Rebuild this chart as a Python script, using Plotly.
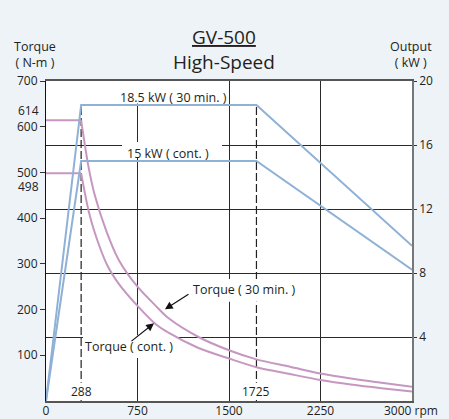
import plotly.graph_objects as go

# ---------------- data ----------------
rpm_power = [0, 288, 1725, 3000]
kw_30min = [0, 18.5, 18.5, 9.7]
kw_cont = [0, 15, 15, 8.2]

rpm_torque = [0, 288, 350, 400, 500, 600, 750, 900, 1000, 1250, 1500, 1725, 2000, 2250, 2500, 2750, 3000]
torque_30min = [614, 614, 510, 450, 368, 307, 250, 208, 182, 140, 111, 91, 75, 60, 49, 40, 31]
torque_cont = [498, 498, 415, 368, 298, 255, 208, 168, 150, 116, 93, 74, 59, 46, 36, 28, 21]

x_ticks = [0, 750, 1500, 2250, 3000]
torque_ticks = [100, 200, 300, 400, 500, 600, 700]
kw_ticks = [4, 8, 12, 16, 20]

KW_TO_NM = 700 / 20  # both axes share the same pixel span

BLUE = "#8fb1d6"
PINK = "#c597c1"
FONT = "Open Sans"

fig = go.Figure()

fig.add_trace(go.Scatter(x=rpm_power, y=kw_30min, yaxis="y2", mode="lines",
                         line=dict(color=BLUE, width=2), hoverinfo="skip"))
fig.add_trace(go.Scatter(x=rpm_power, y=kw_cont, yaxis="y2", mode="lines",
                         line=dict(color=BLUE, width=2), hoverinfo="skip"))
for tq in (torque_30min, torque_cont):
    # flat constant-torque part
    fig.add_trace(go.Scatter(x=rpm_torque[:2], y=tq[:2], mode="lines",
                             line=dict(color=PINK, width=2), hoverinfo="skip"))
    # falling part
    fig.add_trace(go.Scatter(x=rpm_torque[1:], y=tq[1:], mode="lines",
                             line=dict(color=PINK, width=2, shape="spline", smoothing=0.8),
                             hoverinfo="skip"))

shapes = []
# dashed reference lines at the corner speeds
for r in (rpm_power[1], rpm_power[2]):
    shapes.append(dict(type="line", xref="x", yref="y", x0=r, x1=r, y0=0,
                       y1=kw_30min[1] * KW_TO_NM,
                       line=dict(color="#222", width=1.2, dash="8px,3px"), layer="between"))

# white label backgrounds (hide grid lines behind labels)
def box(x0, x1, y0, y1):
    shapes.append(dict(type="rect", xref="x", yref="y", x0=x0, x1=x1, y0=y0, y1=y1,
                       fillcolor="white", line=dict(width=0), layer="between"))

box(566, 1484, 18.6 * KW_TO_NM, 20 * KW_TO_NM)
box(623, 1443, 15.19 * KW_TO_NM, 16.19 * KW_TO_NM)
box(1164, 2082, 217, 267)
box(303, 1074, 94, 144)
box(205, 371, 2, 40)
box(1595, 1855, 2, 40)

fig.update_layout(shapes=shapes)

ann = []
def txt(x, y, t, xref="x", yref="y", size=12.5, xanchor="center", **kw):
    ann.append(dict(x=x, y=y, xref=xref, yref=yref, text=t, showarrow=False,
                    font=dict(family=FONT, size=size, color="#231f20"),
                    xanchor=xanchor, yanchor="middle", **kw))

txt(1041, 18.96 * KW_TO_NM, "18.5 kW ( 30 min. )")
txt(1000, 15.48 * KW_TO_NM, "15 kW ( cont. )")
txt(1619, 244, "Torque ( 30 min. )")
txt(684, 118.8, "Torque ( cont. )")
txt(rpm_power[1], 20.3, str(rpm_power[1]), size=12)
txt(rpm_power[2], 20.3, str(rpm_power[2]), size=12)
txt(-0.014, 635, str(torque_30min[0]), xref="paper", size=12, xanchor="right")
txt(-0.014, 469, str(torque_cont[0]), xref="paper", size=12, xanchor="right")
txt(0.485, 1.1375, "<u>GV-500</u>", xref="paper", yref="paper", size=19)
txt(0.485, 1.059, "High-Speed", xref="paper", yref="paper", size=19)
txt(-0.029, 1.084, "Torque<br>( N-m )", xref="paper", yref="paper", size=12.5)
txt(0.997, 1.084, "Output<br>( kW )", xref="paper", yref="paper", size=12.5)
txt(0.918, -0.03, f"{x_ticks[-1]} rpm", xref="paper", yref="paper", size=12, xanchor="left")

# arrows
ann.append(dict(x=975, y=200.6, xref="x", yref="y", text="", showarrow=True,
                ax=25, ay=-16, arrowhead=2, arrowsize=1.3, arrowwidth=1.2, arrowcolor="#111"))
ann.append(dict(x=885, y=170, xref="x", yref="y", text="", showarrow=True,
                ax=-24, ay=19, arrowhead=2, arrowsize=1.3, arrowwidth=1.2, arrowcolor="#111"))

fig.update_layout(annotations=ann)

fig.update_layout(
    width=449, height=419,
    margin=dict(l=46, r=37, t=81, b=18, pad=0, autoexpand=False),
    paper_bgcolor="#eef3f8", plot_bgcolor="white",
    showlegend=False,
    font=dict(family=FONT, size=12, color="#231f20"),
    xaxis=dict(range=[0, 3000], tickvals=x_ticks,
               ticktext=[str(v) for v in x_ticks[:-1]] + [""],
               showgrid=True, gridcolor="#2a2a2a", gridwidth=1.2, zeroline=False,
               showline=True, linecolor="#555", linewidth=1.5, mirror=True,
               ticks="", ticklabelstandoff=-2, tickfont=dict(size=12), fixedrange=True,
               automargin=False),
    yaxis=dict(range=[0, 700], tickvals=torque_ticks, showgrid=False, zeroline=False,
               showline=True, linecolor="#111", linewidth=1.2,
               ticks="outside", ticklen=5, tickcolor="#333", tickwidth=1,
               tickfont=dict(size=12), fixedrange=True, automargin=False),
    yaxis2=dict(range=[0, 20], tickvals=kw_ticks, overlaying="y", side="right",
                showgrid=True, gridcolor="#2a2a2a", gridwidth=1.2, zeroline=False,
                showline=True, linecolor="#777", linewidth=1.5,
                ticks="outside", ticklen=3, tickcolor="#333", tickwidth=1,
                tickfont=dict(size=12), fixedrange=True, automargin=False),
)

fig.write_html("out.html", config={"displayModeBar": False},
               post_script="document.body.style.margin='0';")
